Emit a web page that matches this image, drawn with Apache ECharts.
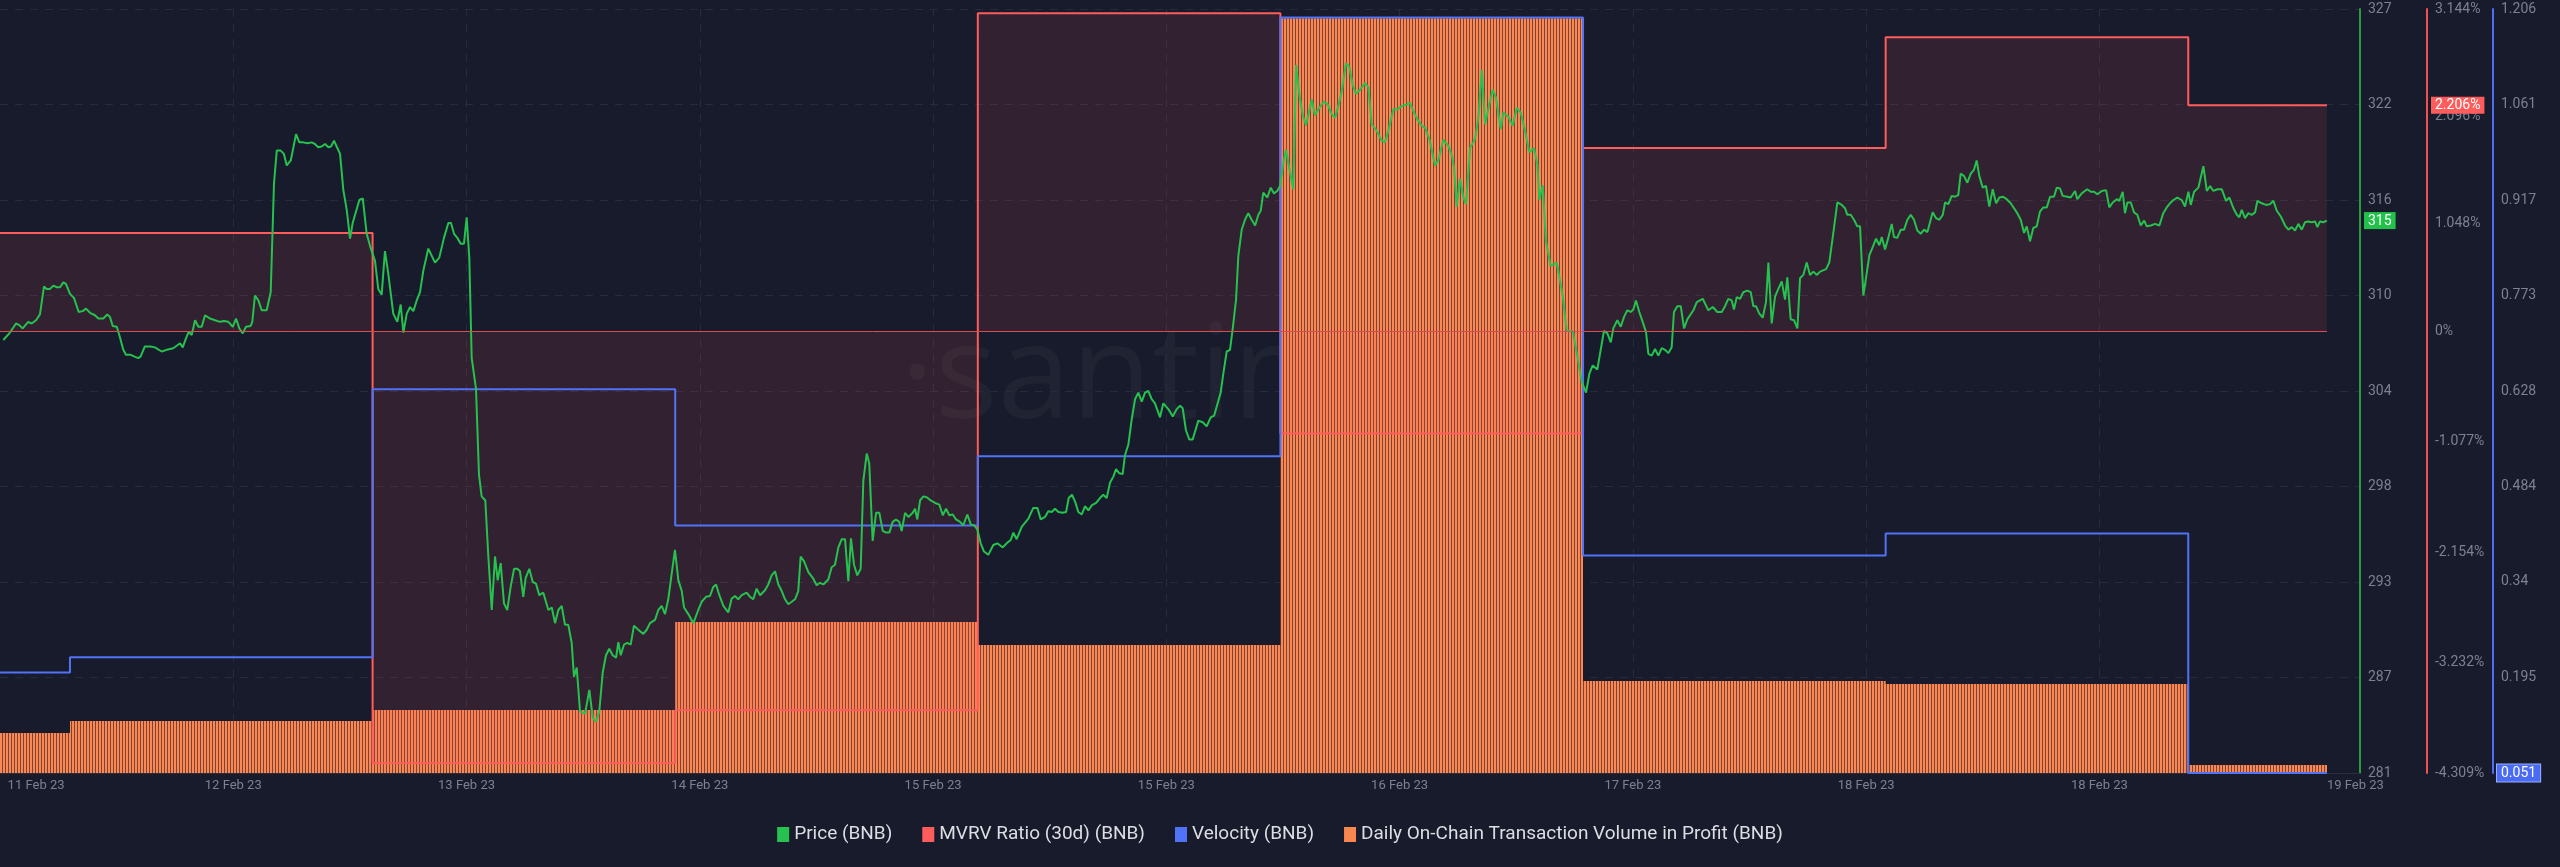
<!DOCTYPE html>
<html>
<head>
<meta charset="utf-8">
<script src="https://cdn.jsdelivr.net/npm/echarts@6/dist/echarts.min.js"></script>
<style>
html,body{margin:0;padding:0;background:#181b2b;}
#chart{width:2560px;height:867px;}
</style>
</head>
<body>
<div id="chart"></div>
<script>
// ---------- DATA ----------
// x values are hours since the chart start (11 Feb 2023, 22:30 UTC)
const dayStartHours = [0, 5.55, 29.55, 53.55, 77.55, 101.55, 125.55, 149.55, 173.55];
const lastHour = 184.55;
const axisEndHour = 187.17;

const mvrvPct = [0.959, 0.959, -4.214, -3.698, 3.102, -0.997, 1.789, 2.869, 2.206];
const velocity = [0.203, 0.226, 0.631, 0.425, 0.530, 1.193, 0.380, 0.413, 0.051];
const volumeInProfit = [105000, 136000, 165000, 395000, 335000, 1976000, 241000, 233000, 21000];

const priceHours = [
0.26,0.79,1.27,1.53,1.80,2.24,2.51,2.86,3.17,3.49,
3.70,3.97,4.23,4.50,4.76,5.02,5.23,5.55,5.87,6.24,
6.56,6.82,7.14,7.53,7.80,8.19,8.51,8.72,8.94,9.26,
9.46,9.78,9.99,10.37,10.63,10.97,11.16,11.48,11.90,12.29,
12.82,13.22,13.74,14.28,14.49,14.75,14.97,15.20,15.47,15.73,
16.00,16.26,16.66,17.05,17.45,17.77,18.11,18.46,18.72,18.98,
19.25,19.51,19.88,20.01,20.22,20.49,20.76,21.15,21.28,21.47,
21.73,21.95,22.26,22.52,22.74,23.06,23.48,23.74,24.05,24.37,
24.72,24.98,25.24,25.51,25.78,26.04,26.25,26.49,26.70,26.97,
27.23,27.50,27.76,27.97,28.50,28.77,29.08,29.35,29.74,30.00,
30.27,30.53,30.80,31.19,31.51,31.78,31.99,32.26,32.52,32.78,
33.05,33.31,33.57,33.97,34.50,34.84,35.21,35.56,35.77,36.01,
36.27,36.54,36.80,37.01,37.22,37.41,37.75,37.99,38.20,38.49,
38.73,39.00,39.26,39.47,39.71,39.97,40.23,40.50,40.77,41.03,
41.24,41.50,41.69,41.98,42.25,42.51,42.77,43.09,43.49,43.76,
44.02,44.28,44.55,44.81,45.07,45.34,45.52,45.74,46.00,46.40,
46.74,47.01,47.27,47.53,47.80,48.06,48.32,48.59,48.86,49.04,
49.23,49.49,49.75,50.02,50.28,50.62,51.02,51.29,51.55,51.95,
52.21,52.48,52.74,53.00,53.27,53.53,53.80,54.07,54.25,54.59,
54.99,55.38,55.65,55.99,56.31,56.57,56.79,57.05,57.37,57.76,
58.03,58.29,58.55,58.82,59.22,59.48,59.74,60.01,60.28,60.67,
60.93,61.20,61.47,61.73,62.00,62.26,62.52,63.05,63.31,63.50,
63.77,64.11,64.50,64.77,65.03,65.30,65.69,65.96,66.22,66.49,
66.76,67.02,67.28,67.49,67.73,67.99,68.26,68.47,68.74,68.94,
69.21,69.48,69.74,70.01,70.27,70.53,70.80,71.06,71.32,71.51,
71.78,72.04,72.39,72.57,72.75,72.97,73.23,73.50,73.81,74.16,
74.50,74.77,75.03,75.29,75.56,75.82,76.14,76.40,76.72,76.99,
77.25,77.51,77.78,78.04,78.38,78.78,79.10,79.53,79.84,80.16,
80.37,80.63,81.03,81.56,81.95,82.27,82.54,82.88,83.14,83.41,
83.67,83.94,84.28,84.55,84.76,85.02,85.28,85.52,85.79,86.05,
86.32,86.58,86.93,87.24,87.50,87.77,88.04,88.30,88.51,88.77,
89.04,89.22,89.49,89.76,90.02,90.28,90.55,90.81,91.07,91.34,
91.60,92.00,92.26,92.66,93.01,93.32,93.59,93.80,94.06,94.33,
94.59,95.04,95.39,95.70,96.02,96.29,96.55,96.81,97.02,97.29,
97.55,97.77,98.03,98.21,98.48,98.74,99.00,99.27,99.54,99.80,
99.99,100.19,100.51,100.78,101.04,101.30,101.52,101.78,101.99,102.31,
102.57,102.79,103.05,103.32,103.58,103.84,104.03,104.29,104.64,104.95,
105.27,105.62,105.88,106.14,106.41,106.75,107.01,107.28,107.54,107.86,
108.26,108.52,108.79,109.19,109.58,109.84,110.11,110.50,110.82,111.17,
111.57,111.83,112.09,112.41,112.76,113.02,113.36,113.55,113.81,114.07,
114.47,114.86,115.13,115.32,115.53,115.79,116.06,116.27,116.59,116.98,
117.25,117.52,117.78,118.04,118.39,118.65,119.02,119.23,119.63,119.97,
120.29,120.61,120.95,121.29,121.66,121.93,122.08,122.35,122.61,122.98,
123.46,123.94,124.25,124.73,125.10,125.45,125.79,126.05,126.32,126.68,
126.95,127.21,127.48,127.75,127.95,128.27,128.54,128.80,129.06,129.33,
129.54,129.75,130.01,130.28,130.55,130.73,131.00,131.26,131.52,131.79,
132.05,132.32,132.58,132.76,133.03,133.30,133.56,133.82,134.30,134.57,
135.04,135.49,135.84,136.20,136.55,136.81,137.07,137.34,137.52,137.74,
138.00,138.26,138.58,138.85,139.06,139.27,139.53,139.80,140.06,140.25,
140.51,140.78,141.04,141.31,141.57,141.75,142.02,142.28,142.55,142.76,
143.02,143.29,143.55,143.82,144.08,144.35,144.82,145.08,145.40,145.72,
146.07,146.33,146.51,146.78,147.04,147.30,147.52,147.78,147.99,148.26,
148.53,148.79,149.05,149.24,149.50,149.76,150.03,150.21,150.47,150.75,
151.01,151.27,151.54,151.80,152.06,152.33,152.60,152.86,153.07,153.28,
153.54,153.81,154.08,154.26,154.52,154.79,155.05,155.31,155.50,155.77,
156.03,156.30,156.56,156.77,156.98,157.25,157.51,157.77,158.04,158.31,
158.57,158.84,159.15,159.47,159.73,159.99,160.26,160.53,160.74,161.00,
161.26,161.53,161.79,162.06,162.33,162.59,162.90,163.12,163.38,163.59,
163.96,164.23,164.57,164.75,165.10,165.54,165.81,166.08,166.34,166.69,
167.03,167.29,167.56,167.88,168.08,168.35,168.53,168.72,168.99,169.25,
169.51,169.78,170.05,170.26,170.58,170.92,171.26,171.57,171.84,172.10,
172.37,172.68,173.03,173.29,173.56,173.75,174.01,174.35,174.75,175.02,
175.28,175.54,175.86,176.21,176.55,176.81,177.13,177.40,177.60,177.79,
178.05,178.32,178.58,178.85,179.03,179.38,179.72,180.04,180.30,180.57,
180.89,181.23,181.49,181.76,182.02,182.28,182.55,182.81,183.07,183.34,
183.60,183.79,184.00,184.26,184.54
];
const priceValues = [
307.3,307.75,308.3,308.2,308.0,308.4,308.3,308.5,308.85,310.55,
310.4,310.4,310.6,310.5,310.5,310.8,310.7,310.1,309.85,309.0,
309.05,309.2,308.95,308.8,308.6,308.6,308.85,308.7,308.15,308.1,
307.6,306.7,306.4,306.4,306.3,306.2,306.3,306.9,306.9,306.85,
306.6,306.7,306.8,307.1,306.85,307.4,307.8,307.6,308.5,308.1,
308.1,308.8,308.6,308.5,308.4,308.45,308.4,308.1,308.6,308.0,
307.7,308.1,308.15,308.4,310.0,309.7,309.1,309.1,309.2,310.2,
316.8,318.8,318.8,318.6,317.9,318.2,319.8,319.3,319.3,319.25,
319.3,319.2,319.0,319.05,319.2,319.0,319.05,319.4,319.05,318.6,
316.4,315.2,313.45,314.4,315.8,315.9,313.75,313.0,312.1,310.4,
310.05,312.7,311.3,308.9,308.4,309.45,307.75,308.9,309.3,309.05,
309.7,310.2,311.5,312.85,312.0,312.3,313.5,314.4,314.4,313.75,
313.5,313.15,313.15,314.75,312.3,306.2,304.35,299.1,297.8,297.55,
294.15,290.9,294.15,292.7,293.75,291.3,290.9,292.3,293.4,293.4,
293.25,291.7,292.85,293.4,292.6,292.5,291.8,291.95,290.9,291.05,
290.1,290.9,291.15,290.0,290.0,288.9,286.85,287.4,284.75,284.6,
286.05,284.35,284.1,284.75,287.1,288.15,288.55,288.15,288.0,288.95,
288.15,288.8,288.9,288.8,289.95,289.7,289.45,289.7,290.1,290.3,
290.9,291.15,290.65,291.55,293.1,294.55,292.7,292.05,291.05,290.65,
290.1,290.9,291.4,291.7,291.75,292.3,292.45,291.8,291.15,290.75,
291.6,291.75,291.55,291.8,291.95,291.7,291.55,292.2,291.8,292.1,
292.45,293.0,293.25,292.45,292.05,291.55,291.25,291.55,292.05,294.15,
293.85,293.2,292.8,292.4,292.55,292.45,292.75,293.5,293.65,294.7,
295.2,295.2,292.65,295.25,293.65,293.0,293.4,298.75,300.4,299.8,
295.1,296.8,296.8,295.7,295.6,295.6,296.25,296.4,296.25,295.7,
296.8,296.55,296.8,297.05,296.4,297.55,297.8,297.75,297.55,297.4,
297.3,296.65,297.05,296.65,296.7,296.4,296.25,296.05,296.7,296.1,
296.05,295.8,294.95,294.45,294.25,294.85,294.95,294.7,294.95,295.15,
295.6,295.2,295.95,296.45,297.1,297.1,296.4,296.55,296.9,296.85,
297.05,296.85,296.8,296.85,297.7,297.9,297.45,296.85,296.7,297.2,
296.95,297.25,297.4,297.7,297.9,297.7,298.65,299.0,299.45,299.2,
299.15,300.3,300.95,302.5,303.7,304.1,303.55,304.1,304.2,303.7,
303.45,302.6,303.45,303.1,302.65,303.1,303.3,303.15,301.8,301.25,
301.25,302.4,302.3,302.05,302.6,302.7,303.4,304.1,305.25,306.6,
306.7,308.0,309.75,312.4,314.0,314.6,315.0,314.6,314.25,314.9,
315.15,316.25,315.95,316.55,316.2,316.35,316.65,318.05,318.85,317.5,
316.45,324.0,322.2,320.95,320.35,321.2,321.9,320.95,321.4,321.75,
321.65,321.0,320.8,321.5,322.4,324.1,323.9,322.8,322.25,322.5,
322.9,322.65,320.4,320.0,319.4,319.3,320.0,321.3,321.3,321.5,
321.6,321.7,321.2,320.7,320.3,320.2,319.5,318.85,317.9,318.2,
319.45,319.1,318.55,317.8,315.4,317.1,315.95,315.55,318.95,319.5,
320.8,323.7,320.4,321.35,322.5,322.0,320.1,321.1,320.85,320.3,
321.4,321.1,320.0,318.7,318.95,317.95,315.8,316.7,313.3,311.8,
312.0,310.0,307.85,307.85,306.3,304.75,304.1,305.25,305.75,305.5,
306.7,307.85,307.7,307.15,308.0,308.5,308.1,308.7,309.1,309.0,
309.15,309.7,309.0,308.4,307.75,306.45,306.35,306.75,306.35,306.8,
306.7,306.5,306.85,309.0,309.35,309.35,308.0,308.55,309.1,309.6,
309.8,309.1,309.3,309.0,309.0,309.35,309.8,309.7,309.15,309.9,
309.8,310.2,310.3,310.2,309.35,309.35,308.9,308.65,309.6,312.0,
308.3,309.95,310.4,310.85,309.75,311.1,308.55,308.5,308.0,311.05,
311.25,312.0,311.25,311.45,311.25,311.45,311.6,312.0,313.8,315.65,
315.5,315.3,314.9,314.9,314.6,314.2,314.2,310.0,311.05,312.45,
312.95,313.45,313.05,313.55,312.8,313.5,314.35,313.55,313.5,314.0,
314.0,314.6,314.9,314.6,313.95,313.75,314.0,313.85,314.45,315.05,
314.7,314.6,314.9,315.65,315.55,316.05,316.0,316.1,317.4,317.25,
316.85,317.4,317.65,318.2,317.25,316.55,316.65,315.4,316.45,315.6,
315.95,316.0,315.85,315.6,315.3,315.0,314.6,313.8,314.2,313.3,
314.1,314.2,315.1,315.35,315.35,316.0,316.0,316.55,316.5,316.05,
316.0,315.95,316.35,315.85,316.2,316.45,316.3,316.3,316.15,316.35,
316.4,315.35,315.65,315.85,315.75,316.3,315.0,315.65,315.65,315.05,
314.9,314.25,314.55,314.2,314.25,314.35,314.25,315.0,315.35,315.6,
315.8,315.95,315.8,315.4,316.3,315.5,316.3,316.55,317.85,316.35,
316.65,316.35,316.45,316.45,315.75,315.95,315.3,314.9,314.75,315.2,
314.7,315.0,314.9,315.05,315.75,315.6,315.5,315.55,315.75,315.15,
314.8,314.25,314.0,314.15,313.95,314.35,314.0,314.45,314.5,314.45,
314.5,314.15,314.5,314.45,314.55
];

const xLabelHours = [2.86, 18.5, 37, 55.5, 74, 92.5, 111, 129.5, 148, 166.5, 186.8];
const xLabelTexts = ['11 Feb 23','12 Feb 23','13 Feb 23','14 Feb 23','15 Feb 23','15 Feb 23','16 Feb 23','17 Feb 23','18 Feb 23','18 Feb 23','19 Feb 23'];
const xGridHours = [18.5, 37, 55.5, 74, 92.5, 111, 129.5, 148, 166.5];
const priceTicks = [281, 286.8, 292.6, 298.4, 304.2, 310, 315.8, 321.6, 327.4];
const mvrvTicks = [-4.309, -3.232, -2.154, -1.077, 0, 1.048, 2.096, 3.144];
const velocityTicks = [0.051, 0.195, 0.34, 0.484, 0.628, 0.773, 0.917, 1.061, 1.206];

const seriesNames = ['Price (BNB)', 'MVRV Ratio (30d) (BNB)', 'Velocity (BNB)', 'Daily On-Chain Transaction Volume in Profit (BNB)'];

// ---------- BUILD ----------
if (priceHours.length !== priceValues.length) throw new Error('price length mismatch ' + priceHours.length + ' ' + priceValues.length);
function stepData(values) {
  const d = dayStartHours.map((h, i) => [h, values[i]]);
  d.push([lastHour, values[values.length - 1]]);
  return d;
}
const priceData = priceHours.map((h, i) => [h, priceValues[i]]);
function xLabel(v) {
  for (let i = 0; i < xLabelHours.length; i++) if (Math.abs(xLabelHours[i] - v) < 1e-6) return xLabelTexts[i];
  return '';
}

const COLORS = { price: '#26c24f', mvrv: '#ff5c5c', vel: '#5073f7', vol: '#fa864f' };
const AXIS_TXT = '#7c8192';
const FONT = 'Roboto';

// striped fill for the daily volume area
const stripe = document.createElement('canvas');
stripe.width = 3; stripe.height = 8;
const sctx = stripe.getContext('2d');
sctx.fillStyle = '#fb8752'; sctx.fillRect(0, 0, 3, 8);
sctx.fillStyle = '#7e4433'; sctx.fillRect(2, 0, 1, 8);

function badge(value, text, bg, border) {
  return {
    show: true, type: 'line', value: value, status: 'show', snap: false,
    triggerTooltip: false,
    lineStyle: { opacity: 0, width: 0 },
    label: {
      show: true, formatter: () => text, backgroundColor: bg, color: '#ffffff',
      fontFamily: FONT, fontSize: 14, padding: [2, 4, 1, 4], margin: 4,
      borderColor: border || bg, borderWidth: border ? 1 : 0, borderRadius: 0,
      shadowBlur: 0
    }
  };
}

const chart = echarts.init(document.getElementById('chart'), null, { renderer: 'canvas' });
chart.setOption({
  animation: false,
  backgroundColor: '#181b2b',
  textStyle: { fontFamily: FONT },
  grid: { left: 0, right: 200, top: 9, bottom: 94, containLabel: false, outerBoundsMode: 'none' },
  graphic: [{
    type: 'text', x: 900, y: 380, z: 0, silent: true,
    style: { text: '\u00b7santiment', font: '400 132px "Open Sans"', fill: 'rgba(255,255,255,0.035)', verticalAlign: 'middle', align: 'left' }
  }],
  legend: {
    data: seriesNames.map((n, i) => ({ name: n, itemStyle: { color: [COLORS.price, COLORS.mvrv, COLORS.vel, COLORS.vol][i], borderWidth: 0 } })),
    top: 820, left: 'center', icon: 'rect', itemWidth: 12, itemHeight: 15, itemGap: 30,
    textStyle: { color: '#dcdee4', fontSize: 19, fontFamily: FONT },
    selectedMode: false
  },
  xAxis: {
    type: 'value', min: 0, max: axisEndHour,
    axisLine: { show: true, onZero: false, lineStyle: { color: '#2a2e3f', width: 1 } },
    axisTick: { show: false, customValues: xGridHours },
    splitLine: { show: true, lineStyle: { color: '#272b3c', type: [8, 7], width: 1 } },
    axisLabel: {
      customValues: xLabelHours, hideOverlap: false,
      formatter: v => xLabel(v),
      color: AXIS_TXT, fontSize: 13, margin: 6, fontFamily: FONT
    },
    axisPointer: { show: false }
  },
  yAxis: [
    {
      type: 'value', position: 'right', offset: 0, min: 281, max: 327.4,
      axisLine: { show: true, onZero: false, lineStyle: { color: '#2d9a40', width: 2 } },
      axisTick: { show: false, customValues: priceTicks },
      axisLabel: { customValues: priceTicks, formatter: v => String(Math.round(v)), color: AXIS_TXT, fontSize: 14, margin: 8, fontFamily: FONT },
      splitLine: { show: true, lineStyle: { color: '#272b3c', type: [8, 7], width: 1 } },
      axisPointer: badge(priceValues[priceValues.length - 1], String(Math.round(priceValues[priceValues.length - 1])), '#22c24a')
    },
    {
      type: 'value', position: 'right', offset: 67, min: -4.309, max: 3.144,
      axisLine: { show: true, onZero: false, lineStyle: { color: '#f05252', width: 2 } },
      axisTick: { show: false, customValues: mvrvTicks },
      axisLabel: { customValues: mvrvTicks, formatter: v => (v === 0 ? '0' : v.toFixed(3)) + '%', color: AXIS_TXT, fontSize: 14, margin: 8, fontFamily: FONT },
      splitLine: { show: false },
      axisPointer: badge(mvrvPct[mvrvPct.length - 1], mvrvPct[mvrvPct.length - 1].toFixed(3) + '%', '#ff5c5c')
    },
    {
      type: 'value', position: 'right', offset: 133, min: 0.051, max: 1.206,
      axisLine: { show: true, onZero: false, lineStyle: { color: '#4d6df2', width: 2 } },
      axisTick: { show: false, customValues: velocityTicks },
      axisLabel: { customValues: velocityTicks, formatter: v => String(v), color: AXIS_TXT, fontSize: 14, margin: 8, fontFamily: FONT },
      splitLine: { show: false },
      axisPointer: badge(velocity[velocity.length - 1], velocity[velocity.length - 1].toFixed(3), '#4a6cf5', '#9aaeff')
    },
    {
      type: 'value', show: false, position: 'right', min: 0, max: 2000000,
      axisLine: { show: false }, axisLabel: { show: false }, splitLine: { show: false }
    }
  ],
  series: [
    {
      name: seriesNames[3], type: 'line', yAxisIndex: 3, step: 'end', symbol: 'none', z: 1,
      data: stepData(volumeInProfit),
      itemStyle: { color: COLORS.vol },
      lineStyle: { width: 0, opacity: 0 },
      areaStyle: { color: { image: stripe, repeat: 'repeat' }, opacity: 1 },
      silent: true
    },
    {
      name: seriesNames[1], type: 'line', yAxisIndex: 1, step: 'end', symbol: 'none', z: 2,
      data: stepData(mvrvPct),
      itemStyle: { color: COLORS.mvrv },
      lineStyle: { color: COLORS.mvrv, width: 2 },
      areaStyle: { color: 'rgba(255,92,92,0.16)', origin: 'auto' },
      markLine: {
        silent: true, symbol: 'none', label: { show: false },
        lineStyle: { color: '#d94c50', width: 1, type: 'solid' },
        data: [[{ coord: [0, 0] }, { coord: [lastHour, 0] }]]
      },
      silent: true
    },
    {
      name: seriesNames[2], type: 'line', yAxisIndex: 2, step: 'end', symbol: 'none', z: 3,
      data: stepData(velocity),
      itemStyle: { color: COLORS.vel },
      lineStyle: { color: COLORS.vel, width: 2 },
      silent: true
    },
    {
      name: seriesNames[0], type: 'line', yAxisIndex: 0, symbol: 'none', z: 4,
      data: priceData,
      itemStyle: { color: COLORS.price },
      lineStyle: { color: COLORS.price, width: 2 },
      silent: true
    }
  ]
});
</script>
</body>
</html>
